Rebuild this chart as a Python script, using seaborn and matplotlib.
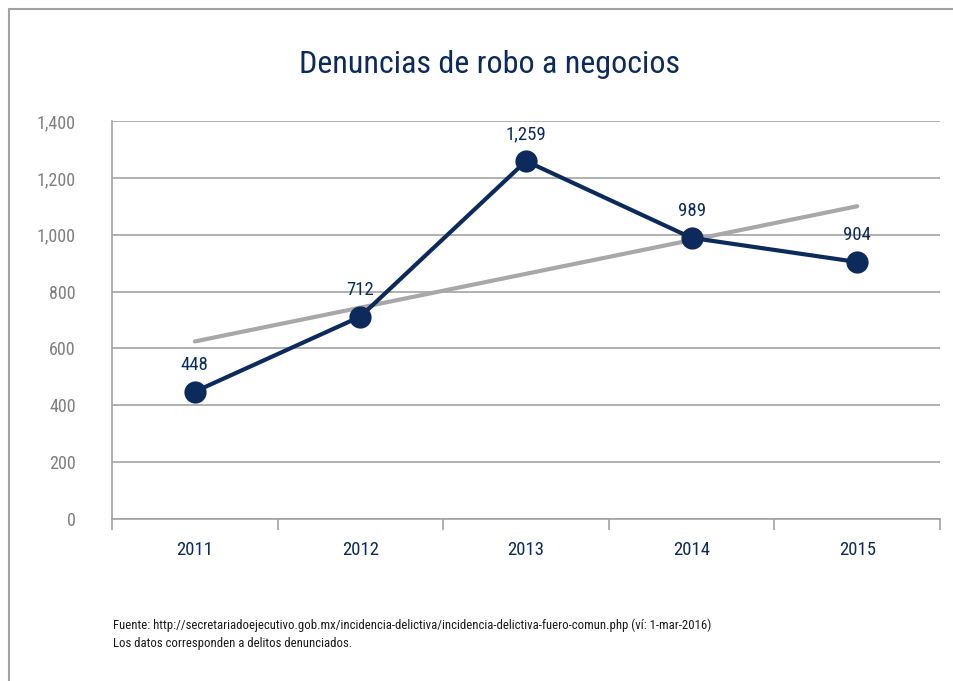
import numpy as np
import pandas as pd
import matplotlib
matplotlib.use("Agg")
import matplotlib.pyplot as plt
from matplotlib import font_manager
from matplotlib.lines import Line2D
import seaborn as sns

# Data
years = ["2011", "2012", "2013", "2014", "2015"]
denuncias = [448, 712, 1259, 989, 904]
y_ticks = [0, 200, 400, 600, 800, 1000, 1200, 1400]
title = "Denuncias de robo a negocios"
source_lines = [
    "Fuente: http://secretariadoejecutivo.gob.mx/incidencia-delictiva/incidencia-delictiva-fuero-comun.php (ví: 1-mar-2016)",
    "Los datos corresponden a delitos denunciados.",
]

NAVY = "#0c2b5c"
TREND = "#a8a8aa"
GRID = "#a3a3a3"
TICK_GRAY = "#7f7f7f"

sns.set_theme(style="white")
available = {f.name for f in font_manager.fontManager.ttflist}
family = next((f for f in ["Roboto Condensed", "Liberation Sans Narrow", "Open Sans Condensed"]
               if f in available), "DejaVu Sans")
plt.rcParams["font.family"] = [family, "DejaVu Sans"]

x = np.arange(len(years))
df = pd.DataFrame({"x": x, "denuncias": denuncias})

# Least-squares trend line over the yearly counts
slope, intercept = np.polyfit(x, denuncias, 1)
df["tendencia"] = slope * x + intercept

fig = plt.figure(figsize=(9.54, 6.81), dpi=100)
ax = fig.add_axes([0.1174, 0.2379, 0.8679, 0.5844])

sns.lineplot(data=df, x="x", y="tendencia", ax=ax, color=TREND, linewidth=3.0,
             solid_capstyle="round", zorder=3)
sns.lineplot(data=df, x="x", y="denuncias", ax=ax, color=NAVY, linewidth=3.0,
             marker="o", markersize=16, markeredgewidth=0, zorder=4)

for xi, v in zip(x, denuncias):
    ax.annotate(f"{v:,}", (xi, v), xytext=(0, 13), textcoords="offset points",
                ha="center", va="bottom", color=NAVY, fontsize=13.5)

ax.set_xlim(-0.5, len(years) - 0.5)
ax.set_ylim(0, 1400)
ax.set_yticks(y_ticks)
ax.set_yticklabels([f"{t:,}" for t in y_ticks], color=TICK_GRAY, fontsize=13)
ax.yaxis.grid(True, color=GRID, linewidth=1.2)
ax.tick_params(axis="y", length=0, pad=26)

# Category boundaries as ticks, labels centered under each category
ax.set_xticks(np.arange(-0.5, len(years), 1.0))
ax.set_xticklabels([])
ax.set_xticks(x, minor=True)
ax.set_xticklabels(years, minor=True, color=NAVY, fontsize=13.5)
ax.tick_params(axis="x", which="major", length=8, width=1.2, color=GRID, bottom=True)
ax.tick_params(axis="x", which="minor", length=0, pad=16)
ax.set_xlabel("")
ax.set_ylabel("")

for side in ["top", "right"]:
    ax.spines[side].set_visible(False)
for side in ["left", "bottom"]:
    ax.spines[side].set_color(GRID)
    ax.spines[side].set_linewidth(1.2)

fig.text(0.5126, 0.906, title, ha="center", va="center", color=NAVY, fontsize=23)
fig.text(0.118, 0.069, "\n".join(source_lines), ha="left", va="center",
         color="#1a1a1a", fontsize=9.2, linespacing=1.5)

# Frame around the figure (top and left edges)
fig.add_artist(Line2D([0.0094, 1.0], [0.9868, 0.9868], transform=fig.transFigure,
                      color=GRID, linewidth=1.5))
fig.add_artist(Line2D([0.0094, 0.0094], [0.0, 0.9868], transform=fig.transFigure,
                      color=GRID, linewidth=1.5))

fig.savefig("out.png", dpi=100)
